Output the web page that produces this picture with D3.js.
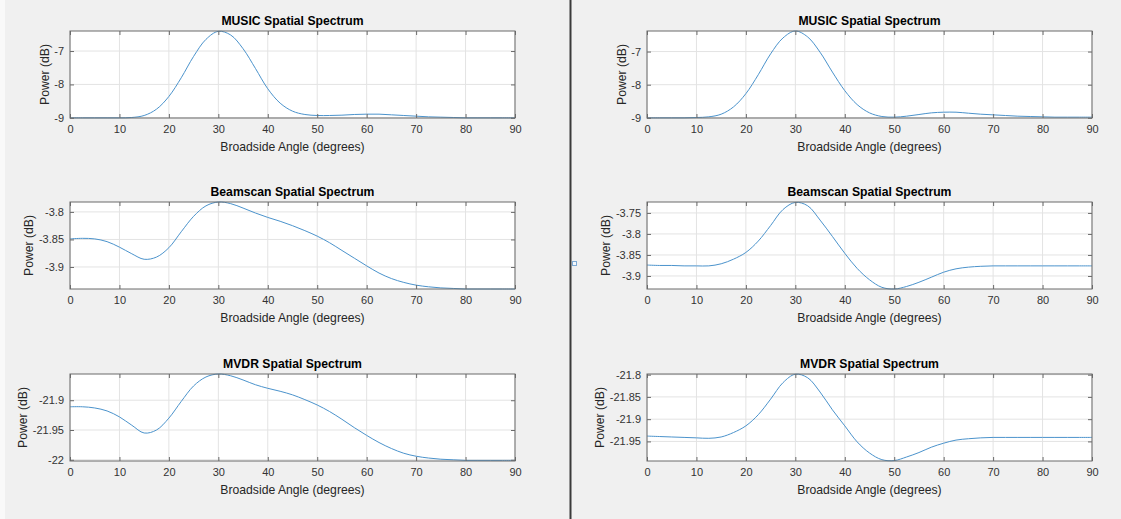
<!DOCTYPE html>
<html>
<head>
<meta charset="utf-8">
<script src="https://d3js.org/d3.v7.min.js"></script>
<style>
  body { margin: 0; background: #f0f0f0; }
  svg { display: block; font-family: "Liberation Sans", Arial, Helvetica, sans-serif; }
</style>
</head>
<body>
<div id="chart"></div>
<script>
// broadside angles where the curves were read (degrees)
var angles = [0, 2.5, 5, 7.5, 10, 12.5, 15, 17.5, 20, 22.5, 25, 27.5, 30, 32.5, 35, 37.5, 40, 42.5, 45,
              47.5, 50, 52.5, 55, 57.5, 60, 62.5, 65, 67.5, 70, 72.5, 75, 77.5, 80, 82.5, 85, 87.5, 90];
var xTicks = [0, 10, 20, 30, 40, 50, 60, 70, 80, 90];

// left figure
var musicLeft = [-9.00, -9.00, -9.00, -9.00, -9.00, -8.99, -8.93, -8.74, -8.36, -7.80,
                 -7.16, -6.65, -6.41, -6.52, -6.93, -7.52, -8.13, -8.56, -8.80, -8.90,
                 -8.93, -8.93, -8.92, -8.90, -8.89, -8.89, -8.91, -8.93, -8.95, -8.97,
                 -8.98, -8.99, -9.00, -9.00, -9.00, -9.00, -9.00];
var beamLeft = [-3.849, -3.848, -3.849, -3.854, -3.864, -3.876, -3.886, -3.882, -3.865, -3.836,
                -3.808, -3.789, -3.782, -3.785, -3.793, -3.802, -3.810, -3.817, -3.825, -3.834,
                -3.844, -3.856, -3.870, -3.884, -3.898, -3.911, -3.921, -3.928, -3.933, -3.936,
                -3.938, -3.939, -3.940, -3.940, -3.940, -3.940, -3.940];
var mvdrLeft = [-21.911, -21.911, -21.913, -21.918, -21.928, -21.942, -21.955, -21.950, -21.930, -21.902,
                -21.876, -21.861, -21.856, -21.859, -21.866, -21.874, -21.880, -21.885, -21.891, -21.899,
                -21.908, -21.919, -21.932, -21.946, -21.959, -21.971, -21.981, -21.989, -21.994, -21.997,
                -21.999, -22.000, -22.001, -22.001, -22.001, -22.001, -22.001];

// right figure
var musicRight = [-9.00, -9.00, -9.00, -9.00, -8.99, -8.97, -8.89, -8.67, -8.27, -7.70,
                  -7.07, -6.59, -6.38, -6.56, -7.02, -7.62, -8.18, -8.60, -8.85, -8.96,
                  -8.98, -8.95, -8.90, -8.85, -8.83, -8.83, -8.86, -8.89, -8.91, -8.93,
                  -8.95, -8.96, -8.97, -8.98, -8.98, -8.98, -8.98];
var beamRight = [-3.874, -3.875, -3.875, -3.876, -3.876, -3.876, -3.871, -3.860, -3.844, -3.817,
                 -3.780, -3.742, -3.725, -3.733, -3.767, -3.806, -3.846, -3.882, -3.909, -3.927,
                 -3.931, -3.925, -3.915, -3.903, -3.891, -3.883, -3.879, -3.877, -3.876, -3.876,
                 -3.876, -3.876, -3.876, -3.876, -3.876, -3.876, -3.876];
var mvdrRight = [-21.938, -21.939, -21.940, -21.941, -21.942, -21.943, -21.940, -21.930, -21.915, -21.890,
                 -21.855, -21.818, -21.799, -21.807, -21.839, -21.879, -21.915, -21.951, -21.976, -21.991,
                 -21.993, -21.985, -21.975, -21.963, -21.954, -21.947, -21.944, -21.942, -21.941, -21.941,
                 -21.941, -21.941, -21.941, -21.941, -21.941, -21.941, -21.941];

// axis limits and tick labels
var musicLeftLim = [-9.005, -6.40],  musicLeftTicks = [-9, -8, -7];
var beamLeftLim = [-3.940, -3.782],  beamLeftTicks = [-3.9, -3.85, -3.8];
var mvdrLeftLim = [-22.002, -21.856], mvdrLeftTicks = [-22, -21.95, -21.9];
var musicRightLim = [-9.005, -6.38], musicRightTicks = [-9, -8, -7];
var beamRightLim = [-3.931, -3.724], beamRightTicks = [-3.9, -3.85, -3.8, -3.75];
var mvdrRightLim = [-21.994, -21.7985], mvdrRightTicks = [-21.95, -21.9, -21.85, -21.8];

var titles = ["MUSIC Spatial Spectrum", "Beamscan Spatial Spectrum", "MVDR Spatial Spectrum"];

var panels = [
  {col: 0, row: 0, values: musicLeft, lim: musicLeftLim, ticks: musicLeftTicks},
  {col: 0, row: 1, values: beamLeft, lim: beamLeftLim, ticks: beamLeftTicks},
  {col: 0, row: 2, values: mvdrLeft, lim: mvdrLeftLim, ticks: mvdrLeftTicks},
  {col: 1, row: 0, values: musicRight, lim: musicRightLim, ticks: musicRightTicks},
  {col: 1, row: 1, values: beamRight, lim: beamRightLim, ticks: beamRightTicks},
  {col: 1, row: 2, values: mvdrRight, lim: mvdrRightLim, ticks: mvdrRightTicks}
];

var W = 1121, H = 519;
var colX = [70, 647], rowY = [31, 202, 374];
var boxW = 445, boxH = 87;

var svg = d3.select("#chart").append("svg")
    .attr("width", W)
    .attr("height", H);

svg.append("rect").attr("width", W).attr("height", H).attr("fill", "#f0f0f0");
svg.append("rect").attr("width", 5).attr("height", H).attr("fill", "#f9f9f9");

// separator between the two figure windows
svg.append("line")
    .attr("x1", 570.5).attr("x2", 570.5).attr("y1", 0).attr("y2", H)
    .attr("stroke", "#3a3a3a").attr("stroke-width", 2);
svg.append("rect")
    .attr("x", 572.5).attr("y", 261.5).attr("width", 4).attr("height", 4)
    .attr("fill", "#f4f8fc").attr("stroke", "#7eaad4");

var fmt = function(d) { return String(d); };

panels.forEach(function(p, i) {
    var g = svg.append("g")
        .attr("transform", "translate(" + colX[p.col] + "," + rowY[p.row] + ")");

    var x = d3.scaleLinear().domain([0, 90]).range([0, boxW]);
    var y = d3.scaleLinear().domain(p.lim).range([boxH, 0]);

    g.append("rect").attr("width", boxW).attr("height", boxH).attr("fill", "#fff");

    // grid
    g.selectAll(".gx").data(xTicks).enter().append("line")
        .attr("x1", function(d) { return x(d); }).attr("x2", function(d) { return x(d); })
        .attr("y1", 0).attr("y2", boxH)
        .attr("stroke", "#e3e3e3");
    g.selectAll(".gy").data(p.ticks).enter().append("line")
        .attr("x1", 0).attr("x2", boxW)
        .attr("y1", function(d) { return y(d); }).attr("y2", function(d) { return y(d); })
        .attr("stroke", "#e3e3e3");

    // curve
    var clipId = "clip" + i;
    g.append("clipPath").attr("id", clipId)
        .append("rect").attr("x", -1).attr("y", -1).attr("width", boxW + 2).attr("height", boxH + 2);
    var line = d3.line()
        .x(function(d, j) { return x(angles[j]); })
        .y(function(d) { return y(d); })
        .curve(d3.curveCatmullRom.alpha(0.5));
    g.append("path")
        .datum(p.values)
        .attr("clip-path", "url(#" + clipId + ")")
        .attr("fill", "none")
        .attr("stroke", "#4b93cc")
        .attr("stroke-width", 1)
        .attr("d", line);

    // axes, ticks pointing inward like matlab
    var bottom = g.append("g").attr("transform", "translate(0," + boxH + ")")
        .call(d3.axisBottom(x).tickValues(xTicks).tickFormat(fmt).tickSizeInner(-4).tickSizeOuter(0).tickPadding(7.5));
    var top = g.append("g")
        .call(d3.axisTop(x).tickValues(xTicks).tickFormat("").tickSizeInner(-4).tickSizeOuter(0));
    var left = g.append("g")
        .call(d3.axisLeft(y).tickValues(p.ticks).tickFormat(fmt).tickSizeInner(-4).tickSizeOuter(0).tickPadding(6));
    var right = g.append("g").attr("transform", "translate(" + boxW + ",0)")
        .call(d3.axisRight(y).tickValues(p.ticks).tickFormat("").tickSizeInner(-4).tickSizeOuter(0));

    [bottom, top, left, right].forEach(function(a) {
        a.select(".domain").remove();
        a.selectAll("line").attr("stroke", "#6a6a6a");
        a.selectAll("text").attr("fill", "#333").style("font-size", "11px")
            .style("font-family", "'Liberation Sans', Arial, sans-serif");
    });

    g.append("rect").attr("width", boxW).attr("height", boxH)
        .attr("fill", "none").attr("stroke", "#6a6a6a").attr("stroke-width", 1);

    // labels
    g.append("text")
        .attr("x", boxW / 2).attr("y", -6)
        .attr("text-anchor", "middle")
        .style("font-size", "12.2px").style("font-weight", "bold")
        .attr("fill", "#000")
        .text(titles[p.row]);

    g.append("text")
        .attr("x", boxW / 2).attr("y", boxH + 32.5)
        .attr("text-anchor", "middle")
        .style("font-size", "12.2px")
        .attr("fill", "#262626")
        .text("Broadside Angle (degrees)");

    var tickLeft = left.node().getBBox().x;
    g.append("text")
        .attr("transform", "translate(" + (tickLeft - 5.5) + "," + (boxH / 2) + ") rotate(-90)")
        .attr("text-anchor", "middle")
        .style("font-size", "12.2px")
        .attr("fill", "#262626")
        .text("Power (dB)");
});
</script>
</body>
</html>
